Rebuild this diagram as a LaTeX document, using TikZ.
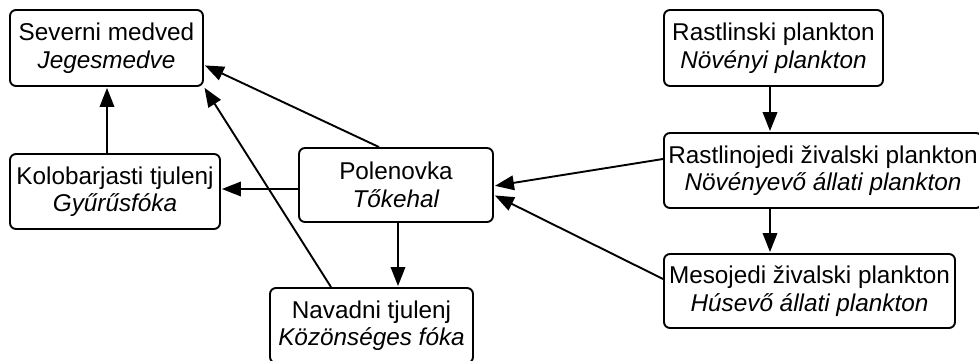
\documentclass[tikz,border=0pt]{standalone}
\usepackage{fontspec}
\setmainfont{Liberation Sans}
\usetikzlibrary{arrows.meta,calc}
\tikzset{
  box/.style={draw, line width=1.9pt, rounded corners=6pt, align=center, inner sep=0pt,
    font=\fontsize{24.3}{27.5}\selectfont},
  arr/.style={line width=1.9pt, -{Triangle[length=19pt,width=14.5pt]}, shorten >=1pt}
}
\begin{document}
\begin{tikzpicture}[x=1pt,y=-1pt]
\useasboundingbox (0,0) rectangle (979,361);
\begin{scope}
\clip (0,0) rectangle (979,361);
\node[box, minimum width=193pt, minimum height=76pt] (sev) at (106.5,48) {Severni medved\\\textit{Jegesmedve}};
\node[box, minimum width=210pt, minimum height=75pt] (kolo) at (115,191.5) {Kolobarjasti tjulenj\\\textit{Gyűrűsfóka}};
\node[box, minimum width=194pt, minimum height=74pt] (polen) at (396,185) {Polenovka\\\textit{Tőkehal}};
\node[box, minimum width=203pt, minimum height=75pt] (nav) at (371.5,325.5) {Navadni tjulenj\\\textit{Közönséges fóka}};
\node[box, minimum width=219pt, minimum height=76pt] (rast1) at (773.5,48) {Rastlinski plankton\\\textit{Növényi plankton}};
\node[box, minimum width=318pt, minimum height=75pt] (rast2) at (823,170.5) {Rastlinojedi živalski plankton\\\textit{Növényevő állati plankton}};
\node[box, minimum width=291pt, minimum height=74pt] (meso) at (809.5,291) {Mesojedi živalski plankton\\\textit{Húsevő állati plankton}};
\end{scope}
\draw[arr] ([xshift=0.5pt]kolo.north -| sev.south) -- ([xshift=0.5pt]sev.south);
\draw[arr] ([xshift=-17pt]polen.north) -- ([yshift=-17pt]sev.east);
\draw[arr] ([xshift=-40.5pt]nav.north) -- (sev.south east);
\draw[arr] ([yshift=-4pt]polen.west) -- ([yshift=-4pt]polen.west -| kolo.east);
\draw[arr] ([xshift=2pt]polen.south) -- ([xshift=2pt]polen.south |- nav.north);
\draw[arr] ([yshift=11.5pt]rast2.west) -- ([yshift=-1pt]polen.east);
\draw[arr] ([yshift=12pt]meso.west) -- ([yshift=-10pt]polen.east);
\draw[arr] ([xshift=-3.5pt]rast1.south) -- ([xshift=-3.5pt]rast1.south |- rast2.north);
\draw[arr] ([xshift=-3.5pt]rast1.south |- rast2.south) -- ([xshift=-3.5pt]rast1.south |- meso.north);
\end{tikzpicture}
\end{document}
